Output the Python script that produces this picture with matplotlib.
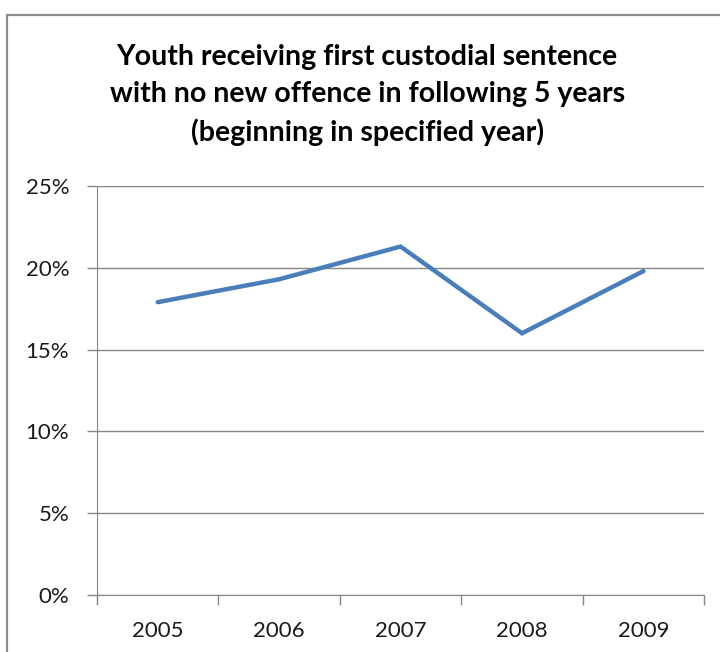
import matplotlib
matplotlib.use("Agg")
import matplotlib.pyplot as plt
from matplotlib.patches import Rectangle
from matplotlib.ticker import FixedLocator, PercentFormatter

years = ["2005", "2006", "2007", "2008", "2009"]
no_reoffence_pct = [17.9, 19.3, 21.3, 16.0, 19.8]
y_ticks = [0, 5, 10, 15, 20, 25]

plt.rcParams['font.family'] = ['Lato', 'DejaVu Sans']

fig = plt.figure(figsize=(7.2, 6.52), dpi=100)
ax = fig.add_axes([0.1347, 0.0874, 0.8433, 0.6273])

# outer chart border (runs off the right and bottom edges)
fig.patches.append(Rectangle((7 / 720, -0.2), 1.2, 1.2 - 15 / 652,
                             transform=fig.transFigure, fill=False,
                             edgecolor="#8c8c8c", linewidth=1.6))

x = list(range(len(years)))
ax.plot(x, no_reoffence_pct, color="#4a7ebb", linewidth=3.2, solid_capstyle="round",
        solid_joinstyle="miter", zorder=3)

ax.set_xlim(-0.5, len(years) - 0.5)
ax.set_ylim(0, 25)
ax.set_yticks(y_ticks)
ax.yaxis.set_major_formatter(PercentFormatter(decimals=0))
ax.grid(axis="y", color="#868686", linewidth=1)

ax.set_xticks(x)
ax.set_xticklabels(years)
ax.xaxis.set_minor_locator(FixedLocator([i - 0.5 for i in range(len(years) + 1)]))
ax.tick_params(axis="x", which="major", length=0, pad=19, labelsize=16, labelcolor="#1a1a1a")
ax.tick_params(axis="x", which="minor", length=7, color="#868686", width=1)
ax.tick_params(axis="y", length=7, color="#868686", width=1, pad=13,
               labelsize=16, labelcolor="#1a1a1a")

for side in ["top", "right"]:
    ax.spines[side].set_visible(False)
ax.spines["left"].set_color("#868686")
ax.spines["bottom"].set_color("#868686")

fig.text(0.51, 0.932, "Youth receiving first custodial sentence\n"
         "with no new offence in following 5 years\n"
         "(beginning in specified year)",
         ha="center", va="top", fontsize=20.5, fontweight="bold",
         linespacing=1.5, color="#000000")

fig.savefig("out.png", dpi=100)
